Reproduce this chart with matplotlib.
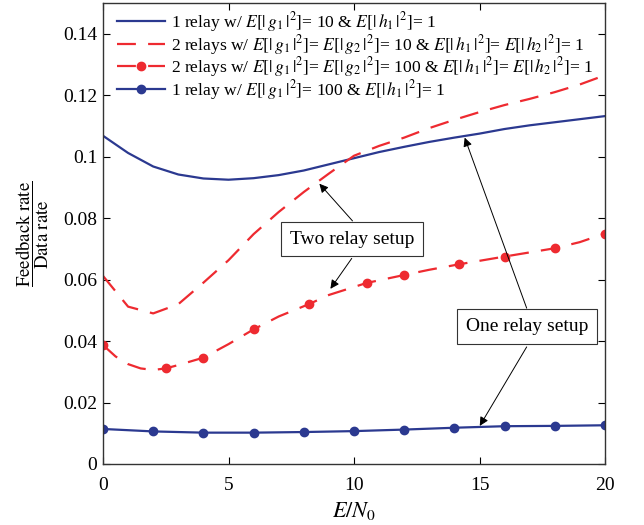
import numpy as np
import matplotlib
matplotlib.use("Agg")
import matplotlib.pyplot as plt

plt.rcParams['font.family'] = ['Liberation Serif', 'DejaVu Serif']
plt.rcParams['mathtext.fontset'] = 'stix'

# --- Data ---
snr = list(range(0, 21))
one_relay_10 = [0.1068, 0.1012, 0.0968, 0.0942, 0.0929, 0.0925, 0.0930, 0.0940,
                0.0955, 0.0975, 0.0995, 0.1015, 0.1032, 0.1048, 0.1062, 0.1075,
                0.1090, 0.1102, 0.1112, 0.1122, 0.1132]
two_relay_10 = [0.0612, 0.0512, 0.0490, 0.0520, 0.0590, 0.0663, 0.0748, 0.0820,
                0.0885, 0.0945, 0.1003, 0.1035, 0.1062, 0.1093, 0.1120, 0.1145,
                0.1168, 0.1188, 0.1210, 0.1235, 0.1265]

snr_two_100 = [0, 0.5, 1, 1.5, 2, 2.5, 3, 4, 5, 6, 7, 8.2, 9, 10.5, 12, 13,
               14.2, 16, 18, 19, 20]
two_relay_100 = [0.0387, 0.0350, 0.0325, 0.0311, 0.0306, 0.0311, 0.0322, 0.0346,
                 0.0390, 0.0438, 0.0480, 0.0520, 0.0550, 0.0589, 0.0615, 0.0632,
                 0.0650, 0.0675, 0.0702, 0.0722, 0.0750]
two_relay_100_marks = [0, 5, 7, 9, 11, 13, 14, 16, 17, 18, 20]

snr_one_100 = [0, 2, 4, 6, 8, 10, 12, 14, 16, 18, 20]
one_relay_100 = [0.0114, 0.0106, 0.0102, 0.0102, 0.0104, 0.0107, 0.0112, 0.0118,
                 0.0123, 0.0124, 0.0126]

labels = [
    r"1 relay w/ $E[|\,g_1\,|^2]$= 10 & $E[|\,h_1\,|^2]$= 1",
    r"2 relays w/ $E[|\,g_1\,|^2]$= $E[|\,g_2\,|^2]$= 10 & $E[|\,h_1\,|^2]$= $E[|\,h_2\,|^2]$= 1",
    r"2 relays w/ $E[|\,g_1\,|^2]$= $E[|\,g_2\,|^2]$= 100 & $E[|\,h_1\,|^2]$= $E[|\,h_2\,|^2]$= 1",
    r"1 relay w/ $E[|\,g_1\,|^2]$= 100 & $E[|\,h_1\,|^2]$= 1",
]

BLUE = '#2b3990'
RED = '#ee2a30'
dash = (0, (8.5, 5.5))

fig = plt.figure(figsize=(6.44, 5.25), dpi=100)
ax = fig.add_axes([103 / 644, 61 / 525, 502 / 644, 461 / 525])

ax.plot(snr, one_relay_10, color=BLUE, lw=1.6, label=labels[0])
ax.plot(snr, two_relay_10, color=RED, lw=1.6, linestyle=dash, label=labels[1])
ax.plot(snr_two_100, two_relay_100, color=RED, lw=1.6, linestyle=dash,
        marker='o', ms=6, markevery=two_relay_100_marks, label=labels[2])
ax.plot(snr_one_100, one_relay_100, color=BLUE, lw=1.6, marker='o', ms=6,
        label=labels[3])

ax.set_xlim(0, 20)
ax.set_ylim(0, 0.15)
ax.set_xticks([0, 5, 10, 15, 20])
ax.set_yticks([0, 0.02, 0.04, 0.06, 0.08, 0.1, 0.12, 0.14])
ax.set_yticklabels(['0', '0.02', '0.04', '0.06', '0.08', '0.1', '0.12', '0.14'])
ax.tick_params(direction='in', length=5, width=0.8, labelsize=14,
               top=True, right=True, pad=4)
ax.tick_params(axis='x', pad=9)
for s in ax.spines.values():
    s.set_linewidth(1.0)
    s.set_color('#333333')

ax.set_xlabel(r"$E/N_0$", fontsize=16, labelpad=5)
ax.set_ylabel(r"$\dfrac{\mathrm{Feedback\ rate}}{\mathrm{Data\ rate}}$",
              fontsize=13.5, labelpad=9)

ax.legend(loc='upper left', bbox_to_anchor=(0.013, 1.0), frameon=False,
          fontsize=12.6, handlelength=2.75, handletextpad=0.35,
          labelspacing=-0.08, borderaxespad=0.1, borderpad=0.3)

# annotations
box = dict(boxstyle='square,pad=0.45', fc='white', ec='#333333', lw=0.8)
arrow = dict(arrowstyle='-|>', color='black', lw=0.7, mutation_scale=13,
             shrinkA=0, shrinkB=0)

ax.text(9.91, 0.0732, "Two relay setup", fontsize=14, ha='center', va='center',
        bbox=box, zorder=5)
ax.annotate("", xy=(8.62, 0.0912), xytext=(9.94, 0.0791), arrowprops=arrow)
ax.annotate("", xy=(9.06, 0.0570), xytext=(9.91, 0.0669), arrowprops=arrow)

ax.text(16.9, 0.0447, "One relay setup", fontsize=14, ha='center', va='center',
        bbox=box, zorder=5)
ax.annotate("", xy=(14.41, 0.1062), xytext=(16.88, 0.0507), arrowprops=arrow)
ax.annotate("", xy=(15.01, 0.0124), xytext=(16.88, 0.0381), arrowprops=arrow)

fig.savefig("out.png", dpi=100)
